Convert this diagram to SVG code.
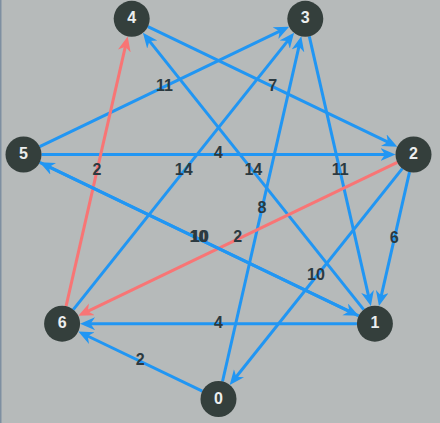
<svg xmlns="http://www.w3.org/2000/svg" width="440" height="423" viewBox="0 0 440 423">
<defs>
<style>
.e{fill:none;stroke-width:3;stroke-linecap:butt}
.b{stroke:#2196f3}
.r{stroke:#f87575}
.b.a{marker-end:url(#ab)}
.r.a{marker-end:url(#ar)}
.n circle{fill:#343f3c}
.n text{fill:#eceeee;font-family:"Liberation Sans",Arial,sans-serif;font-size:16px;font-weight:bold;text-anchor:middle;dominant-baseline:central}
.l{fill:#2b3940;font-family:"Liberation Sans",Arial,sans-serif;font-size:16px;font-weight:bold;text-anchor:middle;dominant-baseline:central}
</style>
<marker id="ab" markerUnits="userSpaceOnUse" markerWidth="17" markerHeight="14" refX="7" refY="6.5" orient="auto" viewBox="0 0 17 14">
<path d="M0,0 L15,6.5 L0,13 L4.5,6.5 Z" fill="#2196f3"/>
</marker>
<marker id="ar" markerUnits="userSpaceOnUse" markerWidth="17" markerHeight="14" refX="7" refY="6.5" orient="auto" viewBox="0 0 17 14">
<path d="M0,0 L15,6.5 L0,13 L4.5,6.5 Z" fill="#f87575"/>
</marker>
</defs>
<rect x="0" y="0" width="440" height="423" fill="#b6baba"/>
<rect x="0" y="0" width="1.5" height="423" fill="#7e8fa1"/>
<g id="edges">
<line class="e b a" x1="147.9" y1="26.6" x2="390.1" y2="143.2"/>
<line class="e b a" x1="39.7" y1="146.7" x2="281.9" y2="30.1"/>
<line class="e b a" x1="41.5" y1="154.5" x2="387.5" y2="154.5"/>
<line class="e b a" x1="363.7" y1="309.6" x2="147.9" y2="39.1"/>
<line class="e b a" x1="73.3" y1="309.6" x2="289.1" y2="39.1"/>
<line class="e r a" x1="66.1" y1="306.1" x2="125.9" y2="44.2"/>
<line class="e b a" x1="222.5" y1="381.5" x2="299.5" y2="44.1"/>
<line class="e b a" x1="309.3" y1="36.4" x2="369.1" y2="298.3"/>
<line class="e b a" x1="409.5" y1="172.1" x2="380.7" y2="298.3"/>
<line class="e b a" x1="402.3" y1="168.6" x2="234.7" y2="378.7"/>
<line class="e r a" x1="397.3" y1="162.3" x2="85.5" y2="312.4"/>
<line class="e b a" x1="356.9" y1="323.7" x2="88.1" y2="323.7"/>
<line class="e b a" x1="202.3" y1="391.2" x2="85.5" y2="335.0"/>
<line class="e b a" x1="39.7" y1="162.3" x2="351.5" y2="312.4"/>
<line class="e b a" x1="358.7" y1="315.9" x2="46.9" y2="165.8"/>
<text class="l" x="272.6" y="85.5">7</text>
<text class="l" x="164.4" y="85.5">11</text>
<text class="l" x="218.5" y="152">4</text>
<text class="l" x="253.3" y="169.5">14</text>
<text class="l" x="183.7" y="169.5">14</text>
<text class="l" x="96.9" y="169.5">2</text>
<text class="l" x="261.9" y="207">8</text>
<text class="l" x="340.1" y="169.5">11</text>
<text class="l" x="394.2" y="237.5">6</text>
<text class="l" x="316" y="274.5">10</text>
<text class="l" x="237.8" y="236.5">2</text>
<text class="l" x="218.5" y="322">4</text>
<text class="l" x="140.3" y="359">2</text>
<text class="l" x="198.5" y="236.5">10</text>
<text class="l" x="200" y="236.5">10</text>
</g>
<g id="n0" class="n"><circle cx="218.5" cy="399" r="18"/><text x="218.5" y="398">0</text></g>
<g id="n1" class="n"><circle cx="374.9" cy="323.7" r="18"/><text x="374.9" y="322.7">1</text></g>
<g id="n2" class="n"><circle cx="413.5" cy="154.5" r="18"/><text x="413.5" y="153.5">2</text></g>
<g id="n3" class="n"><circle cx="305.3" cy="18.8" r="18"/><text x="305.3" y="17.8">3</text></g>
<g id="n4" class="n"><circle cx="131.7" cy="18.8" r="18"/><text x="131.7" y="17.8">4</text></g>
<g id="n5" class="n"><circle cx="23.5" cy="154.5" r="18"/><text x="23.5" y="153.5">5</text></g>
<g id="n6" class="n"><circle cx="62.1" cy="323.7" r="18"/><text x="62.1" y="322.7">6</text></g>
</svg>
